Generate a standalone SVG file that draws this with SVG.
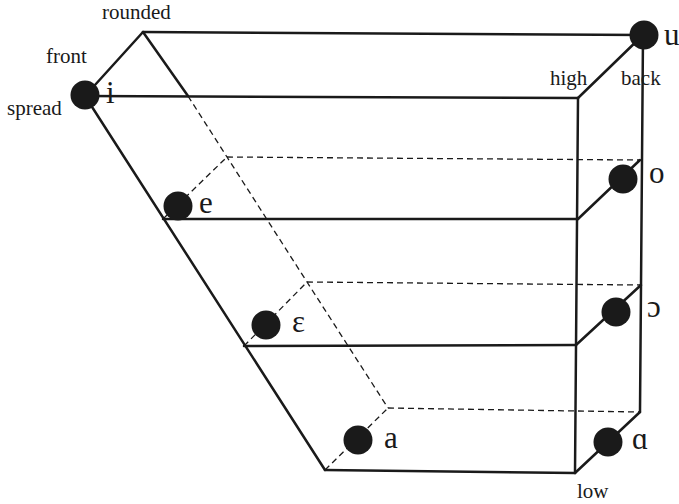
<svg xmlns="http://www.w3.org/2000/svg" width="679" height="504" viewBox="0 0 679 504">
<style>
.s{fill:none;stroke:#1a1a1a;stroke-width:2.5;stroke-linecap:round;stroke-linejoin:round}
.d{fill:none;stroke:#1a1a1a;stroke-width:1.3;stroke-dasharray:6,4}
.dot{fill:#1a1a1a}
.lab{font-family:"Liberation Serif","Times New Roman",serif;font-size:21px;fill:#1a1a1a}
.v{font-family:"Liberation Serif","Times New Roman",serif;font-size:31px;fill:#1a1a1a}
</style>
<rect width="679" height="504" fill="#fff"/>
<g id="connectors">
<polyline class="d" points="188,96 227,157 307,282 388,408"/>
<line class="d" x1="227" y1="157" x2="640" y2="160"/>
<line class="d" x1="163" y1="219" x2="227" y2="157"/>
<line class="d" x1="307" y1="282" x2="641" y2="285"/>
<line class="d" x1="244" y1="346" x2="307" y2="282"/>
<line class="d" x1="388" y1="408" x2="640" y2="412"/>
<line class="d" x1="325" y1="470" x2="388" y2="408"/>
<line class="s" x1="143" y1="32" x2="188" y2="96"/>
<line class="s" x1="85" y1="96" x2="143" y2="32"/>
<line class="s" x1="143" y1="32" x2="643" y2="35"/>
<line class="s" x1="85" y1="96" x2="578" y2="98"/>
<line class="s" x1="85" y1="96" x2="325" y2="470"/>
<line class="s" x1="643" y1="35" x2="578" y2="98"/>
<line class="s" x1="578" y1="98" x2="575" y2="473"/>
<line class="s" x1="643" y1="35" x2="640" y2="412"/>
<line class="s" x1="163" y1="219" x2="578" y2="219"/>
<line class="s" x1="578" y1="219" x2="640" y2="160"/>
<line class="s" x1="244" y1="346" x2="576" y2="345"/>
<line class="s" x1="576" y1="345" x2="641" y2="285"/>
<line class="s" x1="325" y1="470" x2="575" y2="473"/>
<line class="s" x1="575" y1="473" x2="640" y2="412"/>
</g>
<g id="labels">
<text class="lab" x="102" y="19">rounded</text>
<text class="lab" x="46" y="63">front</text>
<text class="lab" x="7" y="115">spread</text>
<text class="lab" x="550" y="85">high</text>
<text class="lab" x="621" y="85">back</text>
<text class="lab" x="577" y="498">low</text>
</g>
<g id="i"><circle class="dot" cx="85" cy="95" r="14.5"/><text class="v" x="106" y="103">i</text></g>
<g id="u"><circle class="dot" cx="644" cy="35" r="14.5"/><text class="v" x="664" y="45">u</text></g>
<g id="e"><circle class="dot" cx="178" cy="206" r="14.5"/><text class="v" x="199" y="213">e</text></g>
<g id="o"><circle class="dot" cx="623" cy="179" r="14.5"/><text class="v" x="649" y="183">o</text></g>
<g id="epsilon"><circle class="dot" cx="266" cy="325" r="14.5"/><text class="v" x="292" y="332">ε</text></g>
<g id="open-o"><circle class="dot" cx="616" cy="312" r="14.5"/><text class="v" x="647" y="317">ɔ</text></g>
<g id="a"><circle class="dot" cx="358" cy="440" r="14.5"/><text class="v" x="384" y="448">a</text></g>
<g id="alpha"><circle class="dot" cx="608" cy="442" r="14.5"/><text class="v" x="632" y="449">ɑ</text></g>
</svg>
